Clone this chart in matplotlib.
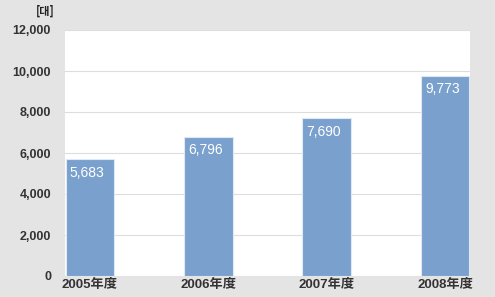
import matplotlib.pyplot as plt

# Data
years = ['2005年度', '2006年度', '2007年度', '2008年度']
units = [5683, 6796, 7690, 9773]
y_ticks = [0, 2000, 4000, 6000, 8000, 10000, 12000]

plt.rcParams['font.family'] = ['Liberation Sans', 'Noto Sans CJK JP', 'DejaVu Sans']

fig = plt.figure(figsize=(4.95, 2.97), dpi=100)
fig.patch.set_facecolor('#e4e4e4')
ax = fig.add_axes([65 / 495, 1 - 276 / 297, 405 / 495, 246 / 297])
ax.set_facecolor('white')

x = range(len(years))
bars = ax.bar(x, units, width=0.41, color='#7aa1cd', edgecolor='#dfe9f4', linewidth=0.8, zorder=3)

# value labels inside the top of each bar
for bar, v in zip(bars, units):
    ax.text(bar.get_x() + 0.035, v - 300, f'{v:,}', color='white', fontsize=10,
            ha='left', va='top', zorder=4)

ax.set_xlim(-0.21, 3.21)
ax.set_ylim(0, 12000)
ax.set_yticks(y_ticks)
ax.set_yticklabels([f'{t:,}' for t in y_ticks], fontsize=9, color='#333333', fontweight='bold')
ax.set_xticks(list(x))
ax.set_xticklabels(years, fontsize=9.5, color='#333333', fontweight='bold')
ax.tick_params(axis='both', length=0)
ax.tick_params(axis='y', pad=10)
ax.tick_params(axis='x', pad=2)

ax.grid(axis='y', color='#dddddd', linewidth=0.8, zorder=0)
for s in ax.spines.values():
    s.set_visible(False)

fig.text(45 / 495, 1 - 11 / 297, '[대]', fontsize=8, fontweight='bold', color='#222222',
         ha='center', va='center', family=['Noto Sans CJK KR', 'DejaVu Sans'])

fig.savefig('out.png', dpi=100, facecolor=fig.get_facecolor())
